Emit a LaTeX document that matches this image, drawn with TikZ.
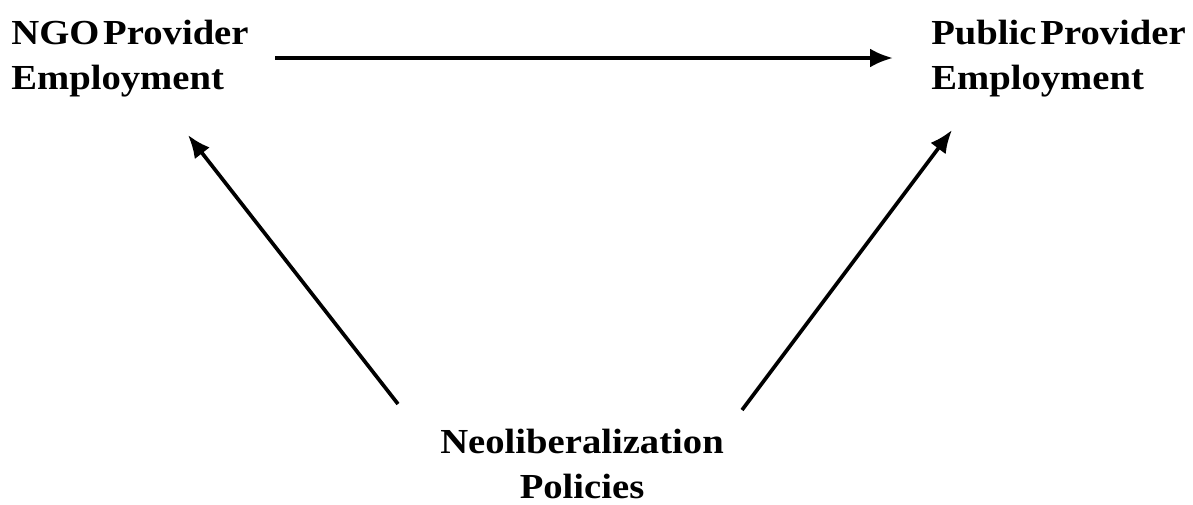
\documentclass[tikz,border=0pt]{standalone}
\usepackage{fontspec}
\setmainfont{Liberation Serif}[FakeStretch=1.1,WordSpace=0.4]
\usetikzlibrary{arrows.meta}
\begin{document}
\begin{tikzpicture}[x=0.02cm,y=-0.02cm,
				every node/.style={font=\bfseries\fontsize{20}{25.6}\selectfont,inner sep=0pt},
				label/.style={anchor=north west,align=left},
				link/.style={-{Latex[length=0.46cm,width=0.38cm]},line width=2.1pt}]
\useasboundingbox (0,0) rectangle (1193,504);
\node[label] (ngo) at (11,20) {NGO Provider\\Employment};
\node[label] (pub) at (931,20) {Public Provider\\Employment};
\node[anchor=north,align=center] (pol) at (582,429) {Neoliberalization\\Policies};
% arrow ends
\coordinate (ngoout) at (275,58);
\coordinate (pubin) at (893,58);
\coordinate (polleft) at (398,404);
\coordinate (ngoin) at (188,135);
\coordinate (polright) at (742,410);
\coordinate (pubin2) at (952,130);
\draw[link] (ngoout) -- (pubin);
\draw[link] (polleft) -- (ngoin);
\draw[link] (polright) -- (pubin2);
\end{tikzpicture}
\end{document}
